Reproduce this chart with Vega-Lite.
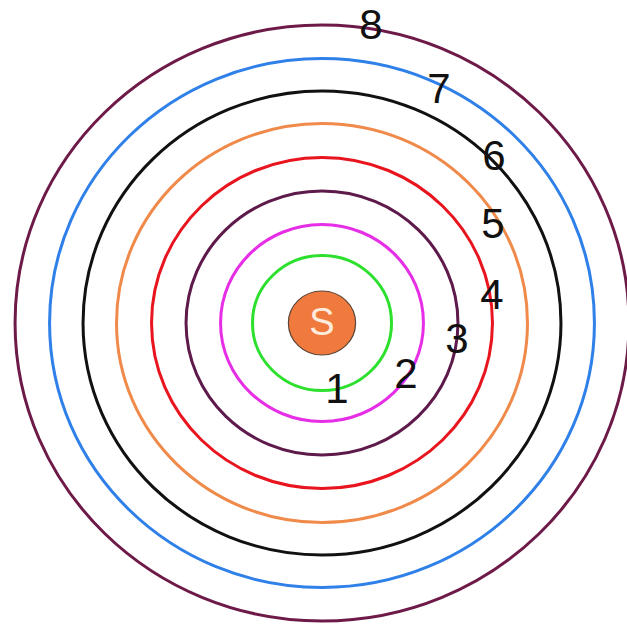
{
  "$schema": "https://vega.github.io/schema/vega-lite/v6.json",
  "width": 627,
  "height": 627,
  "autosize": {"type": "none"},
  "padding": 0,
  "background": "white",
  "config": {"view": {"stroke": null}},
  "datasets": {
    "rings": [
      {"ring": "1", "cx": 0, "cy": 0, "r": 67.5},
      {"ring": "2", "cx": 0, "cy": 0, "r": 98.5},
      {"ring": "3", "cx": 0, "cy": 0, "r": 132},
      {"ring": "4", "cx": 0, "cy": 0, "r": 165.5},
      {"ring": "5", "cx": 0, "cy": 0, "r": 199.5},
      {"ring": "6", "cx": 0, "cy": 0, "r": 232},
      {"ring": "7", "cx": 0, "cy": 0, "r": 264.5},
      {"ring": "8", "cx": 0, "cy": 0, "r": 298}
    ],
    "sun": [{"name": "S", "cx": 0, "cy": 0, "r": 32}],
    "labels": [
      {"label": "1", "x": 15, "y": -64.5},
      {"label": "2", "x": 84, "y": -49.5},
      {"label": "3", "x": 135, "y": -15},
      {"label": "4", "x": 170, "y": 29},
      {"label": "5", "x": 171, "y": 100.5},
      {"label": "6", "x": 172, "y": 168},
      {"label": "7", "x": 117, "y": 235},
      {"label": "8", "x": 49, "y": 299}
    ]
  },
  "layer": [
    {
      "data": {"name": "rings"},
      "mark": {
        "type": "point",
        "filled": false,
        "strokeWidth": 3,
        "opacity": 1,
        "shape": "M1.03,0C1.03,0.5523,0.5689,1,0,1C-0.5689,1,-1.03,0.5523,-1.03,0C-1.03,-0.5523,-0.5689,-1,0,-1C0.5689,-1,1.03,-0.5523,1.03,0Z"
      },
      "encoding": {
        "x": {"field": "cx", "type": "quantitative", "scale": {"domain": [-322, 305], "nice": false, "zero": false}, "axis": null},
        "y": {"field": "cy", "type": "quantitative", "scale": {"domain": [-304, 323], "nice": false, "zero": false}, "axis": null},
        "size": {"field": "r", "type": "quantitative", "scale": {"type": "pow", "exponent": 2, "domain": [0, 300], "range": [0, 360000]}, "legend": null},
        "stroke": {"field": "ring", "type": "nominal", "scale": {"domain": ["1","2","3","4","5","6","7","8"], "range": ["#2EE02E", "#E62EE6", "#5E1A4A", "#E8141E", "#F08A4A", "#111111", "#2F80E8", "#6E1A48"]}, "legend": null}
      }
    },
    {
      "data": {"name": "sun"},
      "mark": {
        "type": "point",
        "filled": true,
        "fill": "#F07A3E",
        "stroke": "#5A4538",
        "strokeWidth": 1.2,
        "opacity": 1,
        "shape": "M1.05,0C1.05,0.5523,0.5799,1,0,1C-0.5799,1,-1.05,0.5523,-1.05,0C-1.05,-0.5523,-0.5799,-1,0,-1C0.5799,-1,1.05,-0.5523,1.05,0Z"
      },
      "encoding": {
        "x": {"field": "cx", "type": "quantitative"},
        "y": {"field": "cy", "type": "quantitative"},
        "size": {"field": "r", "type": "quantitative", "scale": {"type": "pow", "exponent": 2, "domain": [0, 300], "range": [0, 360000]}, "legend": null}
      }
    },
    {
      "data": {"name": "sun"},
      "mark": {"type": "text", "font": "Liberation Sans", "fontSize": 38, "color": "#FDEBDD", "baseline": "middle", "align": "center", "dy": 1},
      "encoding": {
        "x": {"field": "cx", "type": "quantitative"},
        "y": {"field": "cy", "type": "quantitative"},
        "text": {"field": "name"}
      }
    },
    {
      "data": {"name": "labels"},
      "mark": {"type": "text", "font": "Liberation Sans", "fontSize": 42, "color": "#111111", "baseline": "middle", "align": "center", "dy": 2},
      "encoding": {
        "x": {"field": "x", "type": "quantitative"},
        "y": {"field": "y", "type": "quantitative"},
        "text": {"field": "label"}
      }
    }
  ]
}
